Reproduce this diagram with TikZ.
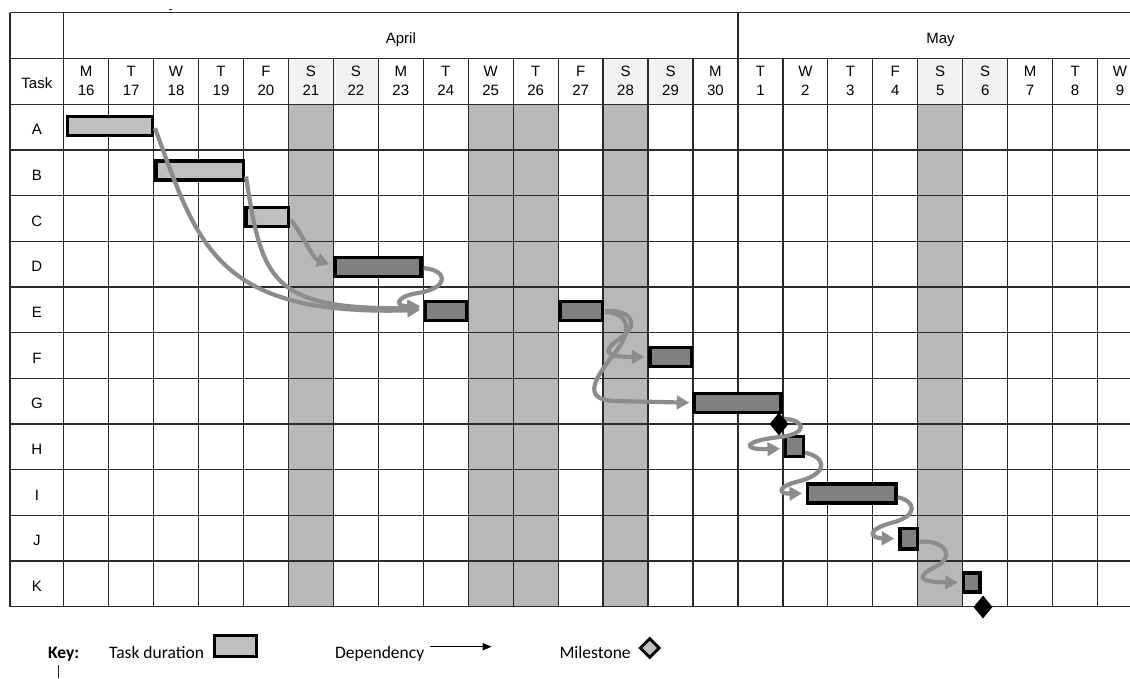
\documentclass[tikz,border=0pt]{standalone}
\usepackage{fontspec}
\setmainfont{Liberation Sans}
\newfontfamily\keyfont{Carlito}
\usetikzlibrary{arrows.meta,shapes.geometric,calc}
\definecolor{gridc}{HTML}{2A2A2A}
\definecolor{hdrgray}{HTML}{F2F2F2}
\definecolor{shadecol}{HTML}{B8B8B8}
\definecolor{barlight}{HTML}{BFBFBF}
\definecolor{bardark}{HTML}{808080}
\definecolor{arrowgray}{HTML}{8C8C8C}
\begin{document}
\begin{tikzpicture}[x=1pt,y=-1pt,
  gridline/.style={draw=gridc, line width=1.25pt},
  hdr/.style={font=\fontsize{15pt}{18pt}\selectfont, inner sep=0pt, anchor=base},
  keytext/.style={font=\keyfont\fontsize{17.5pt}{20pt}\selectfont, inner sep=0pt, anchor=base west},
  taskbar/.style={draw=black, line width=3.4pt, inner sep=0pt, minimum height=19pt, rectangle},
  lightbar/.style={taskbar, fill=barlight},
  darkbar/.style={taskbar, fill=bardark},
  dep/.style={draw=arrowgray, line width=4.2pt, -{Triangle[length=12.5pt,width=13.5pt]}},
  keyarrow/.style={draw=black, line width=1.3pt, -{Triangle[length=9pt,width=7pt]}},
  mstone/.style={diamond, fill=black, inner sep=0pt, minimum width=19pt, minimum height=23pt},
  kdiamond/.style={diamond, draw=black, line width=2.8pt, fill=barlight, inner sep=0pt, minimum width=20pt, minimum height=20pt}
]
\useasboundingbox (0,0) rectangle (1130,678);
\clip (0,0) rectangle (1130,678);
\fill[white] (0,0) rectangle (1130,678);
% header weekend cells
\foreach \i in {5,6,12,13,19,20}
  \fill[hdrgray] ({63.7+44.95*\i},58.3) rectangle ({63.7+44.95*(\i+1)},104.3);
% shaded body columns
\foreach \i in {5,9,10,12,19}
  \fill[shadecol] ({63.7+44.95*\i},104.3) rectangle ({63.7+44.95*(\i+1)},606.7);
% grid horizontal
\draw[gridline] (10,12.7) -- (1135,12.7);
\draw[gridline] (10,58.3) -- (1135,58.3);
\foreach \j in {0,...,11}
  \draw[gridline] (10,{104.3+45.67*\j}) -- (1135,{104.3+45.67*\j});
% grid vertical
\draw[gridline] (10,12.7) -- (10,606.7);
\draw[gridline] (63.7,12.7) -- (63.7,606.7);
\draw[gridline] ({63.7+44.95*15},12.7) -- ({63.7+44.95*15},606.7);
\foreach \i in {1,...,14,16,17,...,24}
  \draw[gridline] ({63.7+44.95*\i},58.3) -- ({63.7+44.95*\i},606.7);
% header texts
\node[hdr] (task) at (36.85,88.3) {Task};
\node[hdr] (april) at (400.85,43.3) {April};
\node[hdr] (may) at (940.5,43.3) {May};
\foreach \d/\n [count=\i from 0] in {M/16,T/17,W/18,T/19,F/20,S/21,S/22,M/23,T/24,W/25,T/26,F/27,S/28,S/29,M/30,T/1,W/2,T/3,F/4,S/5,S/6,M/7,T/8,W/9}{
  \node[hdr] (dl\i) at ({63.7+44.95*\i+22.475},76.7) {\d};
  \node[hdr] (dn\i) at ({63.7+44.95*\i+22.475},95) {\n};
}
\foreach \t [count=\j from 0] in {A,B,C,D,E,F,G,H,I,J,K}
  \node[hdr] (lab\t) at (36.85,{104.3+45.67*(\j+0.5)+7.7}) {\t};
% tiny mark at top
\draw[gridc, line width=1pt] (169,9) -- (172,9);
% task bars
\node[lightbar, minimum width=84.6pt]   (A)  at (110,126.2) {};
\node[lightbar, minimum width=87.3pt] (B)  at (199.65,170.5) {};
\node[lightbar, minimum width=42.3pt] (C)  at (267.15,217.2) {};
\node[darkbar, minimum width=86pt]  (D)  at (378,267.2) {};
\node[darkbar, minimum width=40.9pt]  (E)  at (446.15,311) {};
\node[darkbar, minimum width=42.3pt]  (E2) at (581.15,311.2) {};
\node[darkbar, minimum width=41.6pt]    (F)  at (670.8,356.9) {};
\node[darkbar, minimum width=87pt]  (G)  at (737.5,402.7) {};
\node[darkbar, minimum width=17.6pt, minimum height=20pt] (H) at (794.5,446.7) {};
\node[darkbar, minimum width=88.3pt]  (I)  at (851.85,493.3) {};
\node[darkbar, minimum width=17.6pt, minimum height=20.5pt]   (J)  at (908.8,538.7) {};
\node[darkbar, minimum width=16.6pt]    (K)  at (971.7,582.5) {};
% waypoints of looping dependencies
\coordinate (dE) at (418,293);
\coordinate (eF) at (622,337);
\coordinate (eG) at (614,354);
\coordinate (eG2) at (615,401);
\coordinate (gH) at (780,437);
\coordinate (hI) at (800,481);
\coordinate (iJ) at (891,523);
\coordinate (jK) at (935,567);
% dependencies
\draw[dep] ($(A.east)+(1,2)$) .. controls (198,245) and (215,316) .. ($(E.west)+(-4,-1)$);
\draw[dep] ($(B.east)+(1,6)$) .. controls (262,280) and (270,310) .. ($(E.west)+(-4,-3)$);
\draw[dep] ($(C.east)+(1,3)$) .. controls (303,235) and (312,258) .. ($(D.west)+(-4,-3)$);
\draw[dep] ($(D.east)+(1,1)$) .. controls (448,270) and (450,288) .. (dE)
   .. controls (393,297) and (396,307) .. ($(E.west)+(-4,-5)$);
\draw[dep] ($(E2.east)+(1,0)$) .. controls (627,309) and (642,322) .. (eF)
   .. controls (606,348) and (598,357) .. ($(F.west)+(-4,0)$);
\draw[dep] ($(E2.east)+(1,1)$) .. controls (628,312) and (634,330) .. (eG)
   .. controls (596,377) and (580,400) .. (eG2) -- ($(G.west)+(-3,0)$);
\draw[dep] ($(G.east)+(1,16)$) .. controls (806,420) and (808,434) .. (gH)
   .. controls (742,441) and (742,450) .. ($(H.west)+(-4,2)$);
\draw[dep] ($(H.east)+(0,6)$) .. controls (826,457) and (829,473) .. (hI)
   .. controls (775,487) and (779,494) .. ($(I.west)+(-4,0)$);
\draw[dep] ($(I.east)+(0,4)$) .. controls (916,501) and (919,516) .. (iJ)
   .. controls (866,530) and (870,538) .. ($(J.west)+(-4,0)$);
\draw[dep] ($(J.east)+(0,3)$) .. controls (946,540) and (956,557) .. (jK)
   .. controls (919,575) and (915,582) .. ($(K.west)+(-4,0)$);
% milestones
\node[mstone] (m1) at (779,424) {};
\node[mstone] (m2) at (983,607) {};
% key
\node[keytext, font=\keyfont\bfseries\fontsize{17.5pt}{20pt}\selectfont] (key) at (48,658) {Key:};
\draw[gridc, line width=1pt] (58,665) -- (58,678);
\node[keytext] (ktd) at (109,658) {Task duration};
\node[lightbar, minimum width=41.6pt, minimum height=20.6pt] (kbox) at (235.5,646) {};
\node[keytext] (kdep) at (335,658) {Dependency};
\coordinate (ka1) at (430,646.7);
\coordinate (ka2) at (491.7,646.7);
\draw[keyarrow] (ka1) -- (ka2);
\node[keytext] (kms) at (559.3,658) {Milestone};
\node[kdiamond] (kd) at (649.7,648) {};
\end{tikzpicture}
\end{document}
